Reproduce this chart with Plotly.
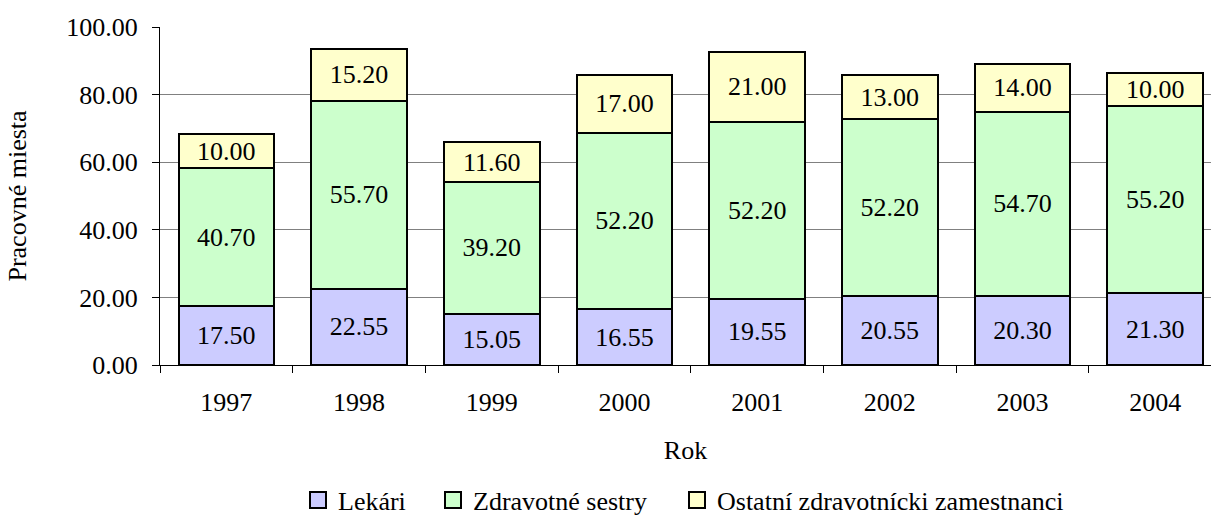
import plotly.graph_objects as go

years = ["1997", "1998", "1999", "2000", "2001", "2002", "2003", "2004"]
lekari = [17.50, 22.55, 15.05, 16.55, 19.55, 20.55, 20.30, 21.30]
sestry = [40.70, 55.70, 39.20, 52.20, 52.20, 52.20, 54.70, 55.20]
ostatni = [10.00, 15.20, 11.60, 17.00, 21.00, 13.00, 14.00, 10.00]
names = ["Lekári", "Zdravotné sestry", "Ostatní zdravotnícki zamestnanci"]
colors = ["#CCCCFF", "#CCFFCC", "#FFFFCC"]

FONT = "Liberation Serif"
FS = 26

fig = go.Figure()
for name, vals, col in zip(names, [lekari, sestry, ostatni], colors):
    fig.add_trace(go.Bar(
        x=years, y=vals, name=name, showlegend=False,
        marker=dict(color=col, line=dict(color="black", width=2)),
        width=0.72,
        texttemplate="%{y:.2f}", textposition="inside",
        insidetextanchor="middle", textangle=0,
        textfont=dict(family=FONT, size=FS, color="black"),
    ))

# one legend per entry, so each swatch can sit where the reference puts it
legend_ids = ["legend", "legend2", "legend3"]
legend_x = [298, 433, 677]
for name, col, lid in zip(names, colors, legend_ids):
    fig.add_trace(go.Scatter(
        x=[None], y=[None], name=name, mode="markers", legend=lid,
        marker=dict(symbol="square", size=16, color=col,
                    line=dict(color="black", width=2)),
    ))

legend_common = dict(orientation="h", xref="container", xanchor="left",
                     yref="container", y=0.029, yanchor="middle",
                     font=dict(size=FS, family=FONT), itemwidth=30,
                     itemsizing="trace", bgcolor="rgba(0,0,0,0)")

fig.update_layout(
    barmode="stack",
    width=1211, height=515,
    margin=dict(l=160, r=0, t=27, b=150),
    paper_bgcolor="white", plot_bgcolor="white",
    font=dict(family=FONT, size=FS, color="black"),
    uniformtext=dict(minsize=FS, mode="show"),
    showlegend=True,
    legend=dict(x=legend_x[0] / 1211, **legend_common),
    legend2=dict(x=legend_x[1] / 1211, **legend_common),
    legend3=dict(x=legend_x[2] / 1211, **legend_common),
)
fig.update_xaxes(
    range=[-0.5, 7.42], type="category",
    showline=True, linecolor="black", linewidth=1,
    ticks="outside", tickson="boundaries", ticklen=7, tickcolor="black",
    ticklabelstandoff=14,
    tickfont=dict(size=FS, family=FONT),
    title=dict(text="Rok", font=dict(size=FS, family=FONT), standoff=24),
    showgrid=False,
)
fig.update_yaxes(
    range=[0, 100], dtick=20, tickformat=".2f",
    showline=True, linecolor="black", linewidth=1,
    ticks="outside", ticklen=7, tickcolor="black",
    ticklabelstandoff=9,
    tickfont=dict(size=FS, family=FONT),
    showgrid=True, gridcolor="#808080", gridwidth=1,
    zeroline=False,
    title=dict(text="Pracovné miesta", font=dict(size=FS, family=FONT), standoff=32),
)

fig.write_html("out.html", config={"displayModeBar": False},
               post_script="document.body.style.margin='0';document.body.style.padding='0';")
